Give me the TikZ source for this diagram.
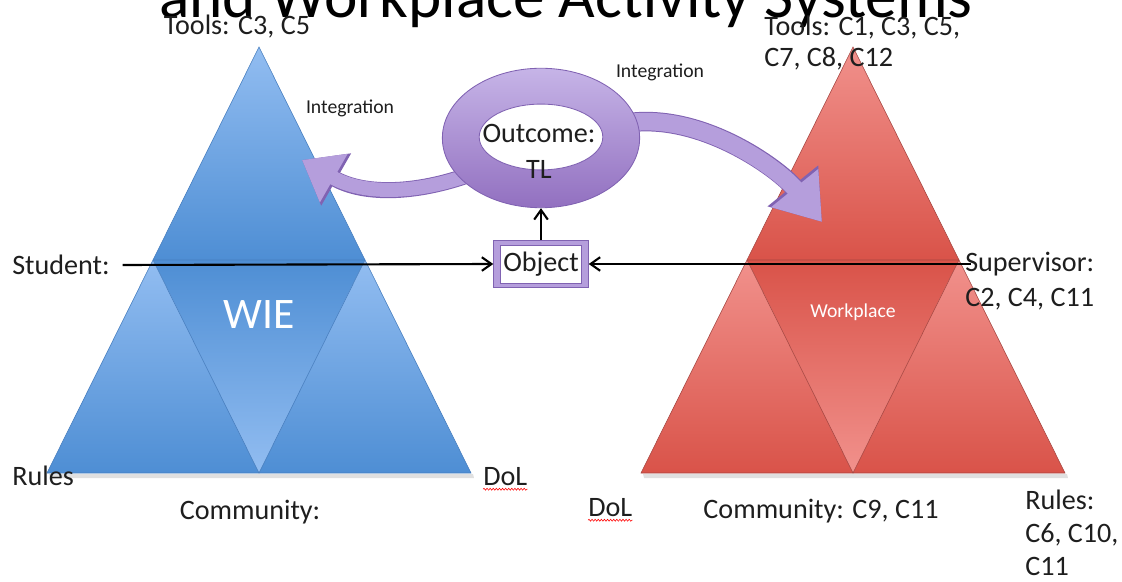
\documentclass[tikz,border=0pt]{standalone}
\usepackage{fontspec}
\setmainfont{Carlito}
\usetikzlibrary{shapes.geometric, arrows.meta, positioning, calc, backgrounds, decorations.pathmorphing}

\definecolor{blueLight}{RGB}{146,189,241}
\definecolor{blueDark}{RGB}{78,142,212}
\definecolor{blueEdge}{RGB}{70,125,190}
\definecolor{redLight}{RGB}{241,145,140}
\definecolor{redDark}{RGB}{217,83,73}
\definecolor{redEdge}{RGB}{165,70,65}
\definecolor{purpleLight}{RGB}{198,180,231}
\definecolor{purpleMid}{RGB}{181,158,220}
\definecolor{purpleDark}{RGB}{146,112,192}
\definecolor{purpleEdge}{RGB}{128,98,178}
\definecolor{inkGray}{RGB}{30,30,30}

\begin{document}
\begin{tikzpicture}[x=0.025cm, y=-0.025cm,
  lbl/.style={font=\fontsize{20}{24}\selectfont, text=inkGray, inner sep=0pt, align=left},
  tinytext/.style={font=\fontsize{14}{17}\selectfont, text=inkGray, inner sep=0pt},
  arrow/.style={-{Straight Barb[length=2.4mm, width=3.4mm]}, line width=1.5pt},
  swoopL/.style={line width=10pt, draw=purpleMid, -{Triangle[length=26pt, width=38pt]},
    preaction={draw=purpleEdge, line width=11.4pt, -{Triangle[length=28pt, width=41pt]}}},
  swoopR/.style={line width=12.5pt, draw=purpleMid, -{Triangle[length=31pt, width=41pt]},
    preaction={draw=purpleEdge, line width=13.9pt, -{Triangle[length=33pt, width=44pt]}}},
  squiggle/.style={red, line width=0.4pt, decorate, decoration={snake, amplitude=0.7pt, segment length=2.2pt}}
]
\useasboundingbox (0,0) rectangle (1122,582);

\node[font=\fontsize{45}{54}\selectfont, anchor=base, inner sep=0pt] (title) at (566,18) {and Workplace Activity Systems};

\node[lbl] (toolsL) at (237,27) {Tools: C3, C5};
\node[lbl, anchor=west, font=\fontsize{20}{22}\selectfont] (toolsR) at (764,43) {Tools: C1, C3, C5,\\C7, C8, C12};
\node[tinytext] (integL) at (350,108) {Integration};
\node[tinytext] (integR) at (660,72) {Integration};

\node[ellipse, minimum width=140.3pt, minimum height=99.2pt, top color=purpleLight, bottom color=purpleDark, draw=purpleEdge, line width=0.6pt] (ring) at (541,138) {};
\node[ellipse, minimum width=87.9pt, minimum height=46.8pt, fill=white, draw=purpleEdge, line width=0.6pt] (hole) at (541,137) {};
\node[lbl, align=center, font=\fontsize{20}{25.5}\selectfont] (outcome) at (539,151) {Outcome:\\TL};

\node[minimum width=67.3pt, minimum height=34pt, fill=purpleMid, draw=purpleEdge, line width=0.6pt] (objframe) at (541,264) {};
\node[lbl, minimum width=58pt, minimum height=27pt, fill=white, draw=purpleEdge, line width=0.5pt, align=center] (object) at (541,264) {Object};

\node[lbl, anchor=west] (student) at (12,265) {Student:};
\node[lbl, anchor=west, font=\fontsize{20}{24.8}\selectfont] (sup) at (965,281) {Supervisor:\\C2, C4, C11};

\node[lbl, text=white, font=\fontsize{31}{36}\selectfont] (wie) at (259,315) {WIE};
\node[tinytext, text=white] (work) at (853,312) {Workplace};

\node[lbl, anchor=west] (rulesL) at (12,476) {Rules};
\node[lbl, anchor=west] (dolL) at (483,477) {DoL};
\node[lbl] (commL) at (250,512) {Community:};
\node[lbl, anchor=west] (dolR) at (588,508) {DoL};
\node[lbl] (commR) at (821,511) {Community: C9, C11};
\node[lbl, anchor=west, font=\fontsize{20}{23.4}\selectfont] (rulesR) at (1025,533) {Rules:\\C6, C10,\\C11};

\coordinate (tipL) at (302,160);
\coordinate (tipR) at (822,222);

\begin{pgfonlayer}{background}
\foreach \cx/\lc/\dc/\ec in {259/blueLight/blueDark/blueEdge, 853/redLight/redDark/redEdge} {
  \fill[black!12] ({\cx-210},474) -- ({\cx+214},474) -- ({\cx+215},478) -- ({\cx-209},478) -- cycle;
  \shade[top color=\lc, bottom color=\dc] (\cx,47) -- ({\cx+106},260) -- ({\cx-106},260) -- cycle;
  \shade[top color=\dc, bottom color=\lc] ({\cx-106},260) -- ({\cx+106},260) -- (\cx,473) -- cycle;
  \shade[top color=\lc, bottom color=\dc] ({\cx-106},260) -- (\cx,473) -- ({\cx-212},473) -- cycle;
  \shade[top color=\lc, bottom color=\dc] ({\cx+106},260) -- ({\cx+212},473) -- (\cx,473) -- cycle;
  \draw[\ec, line width=0.4pt] (\cx,47) -- ({\cx+212},473) -- ({\cx-212},473) -- cycle
    ({\cx-106},260) -- ({\cx+106},260) -- (\cx,473) -- cycle;
}
\draw[swoopL] ($(ring.center)!0.8!(ring.208)$) .. controls (420,194) and (365,196) .. (tipL);
\draw[swoopR] ($(ring.center)!0.85!(ring.10)$) .. controls (700,110) and (780,170) .. (tipR);
\end{pgfonlayer}

\draw[arrow] ([xshift=9pt]student.east) -- (objframe.west);
\draw[arrow] ($(sup.west |- objframe.east)+(6,0)$) -- (objframe.east);
\draw[arrow] (objframe.north) -- (objframe.north |- ring.south);

\draw[squiggle] ([yshift=-2pt]dolL.south west) -- ([yshift=-2pt]dolL.south east);
\draw[squiggle] ([yshift=-2pt]dolR.south west) -- ([yshift=-2pt]dolR.south east);

\end{tikzpicture}
\end{document}
